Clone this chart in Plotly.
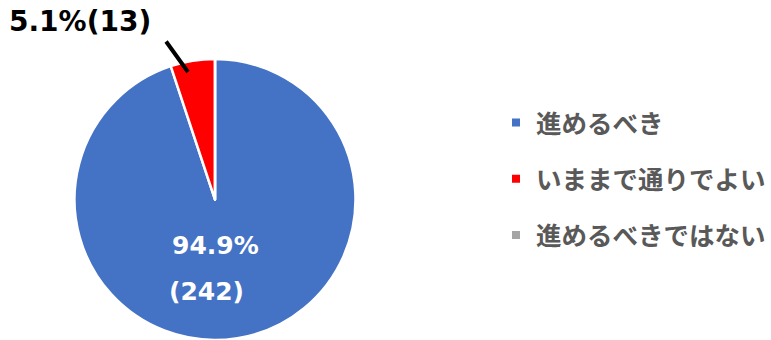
import plotly.graph_objects as go

labels = ["進めるべき", "いままで通りでよい", "進めるべきではない"]
counts = [242, 13, 0]
colors = ["#4472C4", "#FF0000", "#A5A5A5"]

total = sum(counts)
pcts = [c / total * 100 for c in counts]

W, H = 771, 340

fig = go.Figure()
fig.add_trace(go.Pie(
    labels=labels, values=counts, sort=False, direction="clockwise", rotation=0,
    marker=dict(colors=colors, line=dict(color="white", width=2.5)),
    textinfo="none",
    showlegend=False, hoverinfo="label+value+percent",
    domain=dict(x=[74.5 / W, 355.5 / W], y=[0, 281 / H]),
))

# legend entries
for lab, col in zip(labels, colors):
    fig.add_trace(go.Scatter(
        x=[None], y=[None], mode="markers", name=lab, legendgroup=lab,
        marker=dict(symbol="square", size=8, color=col),
    ))

# inside label of the large slice (two lines)
inside_font = dict(family="DejaVu Sans", size=25, color="white", weight="bold")
fig.add_annotation(
    x=215 / W, y=1 - 245 / H, xref="paper", yref="paper",
    text=f"{pcts[0]:.1f}%", showarrow=False, font=inside_font,
    xanchor="center", yanchor="middle",
)
fig.add_annotation(
    x=206 / W, y=1 - 291 / H, xref="paper", yref="paper",
    text=f"({counts[0]})", showarrow=False, font=inside_font,
    xanchor="center", yanchor="middle",
)

# outside label for the small slice with leader line
fig.add_annotation(
    x=188 / W, y=1 - 72 / H, xref="paper", yref="paper",
    ax=-23, ay=-32, axref="pixel", ayref="pixel",
    text="", showarrow=True, arrowhead=0, arrowwidth=4, arrowcolor="black",
)
fig.add_annotation(
    x=80 / W, y=1 - 22 / H, xref="paper", yref="paper",
    text=f"{pcts[1]:.1f}%({counts[1]})", showarrow=False,
    font=dict(family="DejaVu Sans", size=28, color="black", weight="bold"),
    xanchor="center", yanchor="middle",
)

fig.update_layout(
    width=W, height=H, margin=dict(l=0, r=0, t=0, b=0),
    paper_bgcolor="white", plot_bgcolor="white",
    xaxis=dict(visible=False), yaxis=dict(visible=False),
    legend=dict(
        x=496 / W, y=1 - 179 / H, xanchor="left", yanchor="middle",
        font=dict(family="Noto Sans CJK JP", size=25.5, color="#595959", weight="bold"),
        tracegroupgap=20, itemwidth=30, bgcolor="rgba(0,0,0,0)",
    ),
)

fig.write_html("out.html")
